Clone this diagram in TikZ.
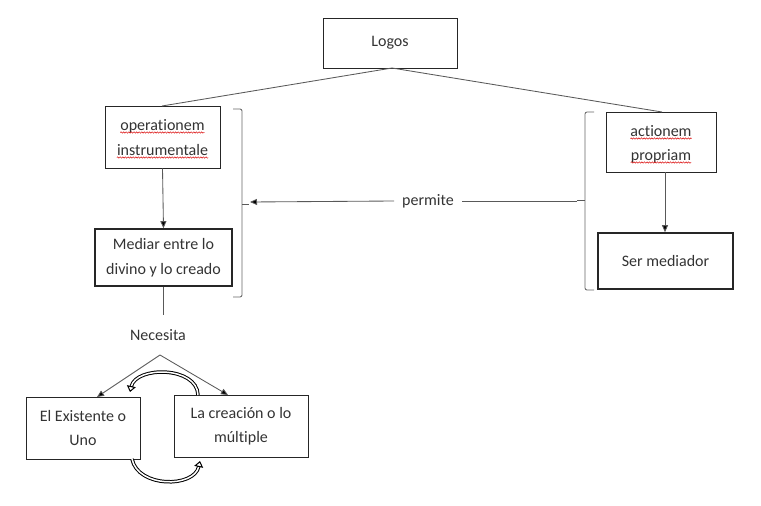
\documentclass[tikz,border=0pt]{standalone}
\usepackage{fontspec}
\setmainfont{Carlito}[Ligatures=NoCommon]
\usetikzlibrary{arrows.meta,decorations.pathmorphing}
\begin{document}
\begin{tikzpicture}[x=1pt,y=-1pt,
  box/.style={draw=black!85,line width=0.9pt,align=center,inner sep=0pt,
    font=\fontsize{16}{24.5}\selectfont,text=black!80},
  thickbox/.style={box,line width=1.6pt},
  word/.style={font=\fontsize{16}{18}\selectfont,text=black!80,inner sep=0pt,anchor=base},
  wave/.style={draw=red!85!black,line width=0.45pt,
    decorate,decoration={snake,amplitude=0.7pt,segment length=2.6pt}},
  conn/.style={draw=black!65,line width=0.85pt},
  arr/.style={conn,-{Triangle[length=7pt,width=6pt,fill=black]}},
  brk/.style={draw=black!60,line width=0.85pt,rounded corners=2pt},
  cyc/.style={draw=black,line width=1pt,double=white,double distance=1.5pt,
    -{Triangle[open,length=6pt,width=9pt]}},
  lbl/.style={font=\fontsize{16}{18}\selectfont,text=black!80,inner sep=2pt}]
\useasboundingbox (0,0) rectangle (761,506);
% boxes
\node[box,minimum width=134pt,minimum height=50pt] (logos) at (390,43) {Logos};
\node[box,minimum width=115pt,minimum height=62pt] (oper) at (162.5,137) {};
\node[word] (w1) at (162.5,130) {operationem};
\node[word] (w2) at (162.5,155) {instrumentale};
\node[thickbox,minimum width=137pt,minimum height=57pt] (med) at (163.5,257.5) {Mediar entre lo\\divino y lo creado};
\node[box,minimum width=110pt,minimum height=60pt] (act) at (661,142) {};
\node[word] (w3) at (661,136) {actionem};
\node[word] (w4) at (661,160) {propriam};
\node[thickbox,minimum width=135pt,minimum height=56pt] (ser) at (665.5,261) {Ser mediador};
\node[box,minimum width=114pt,minimum height=62pt] (uno) at (83,428) {El Existente o\\Uno};
\node[box,minimum width=134pt,minimum height=62pt] (mult) at (241,426) {La creación o lo\\múltiple};
% spell-check underlines
\foreach \w in {w1,w2,w3,w4}
  \draw[wave] ([yshift=-2.5pt]\w.base west) -- ([yshift=-2.5pt]\w.base east);
% Logos branches
\coordinate (apex) at (392,68);
\draw[conn] (apex) -- (162,106);
\draw[conn] (apex) -- (662,112);
\draw[arr] (oper.south) -- (med.north);
\draw[arr] (act.south -| 665,0) -- (ser.north -| 665,0);
% brackets
\draw[brk] (233,109) -- (242,109) -- (242,297) -- (233,297);
\draw[conn] (242,204) -- (249,204);
\coordinate (lbt) at (250,202);
\draw[brk] (594,112) -- (585,112) -- (585,290) -- (594,290);
\draw[conn] (585,200) -- (577,200);
\coordinate (rbt) at (577,201);
\node[lbl] (perm) at (428,201) {permite};
\draw[conn] (rbt) -- ([xshift=6pt]perm.east);
\draw[arr] ([xshift=-6pt]perm.west) -- (lbt);
% Necesita
\node[lbl] (nec) at (158,335) {Necesita};
\draw[conn] (med.south -| 163,0) -- (163,315);
\coordinate (apex2) at (160,355);
\draw[arr] (apex2) -- (97,397);
\draw[arr] (apex2) -- (228,395);
% cycle arrows
\draw[cyc] (198,395) .. controls (197,366) and (136,366) .. (130,392);
\draw[cyc] (132,459) .. controls (138,488) and (194,488) .. (200,461);
\end{tikzpicture}
\end{document}
